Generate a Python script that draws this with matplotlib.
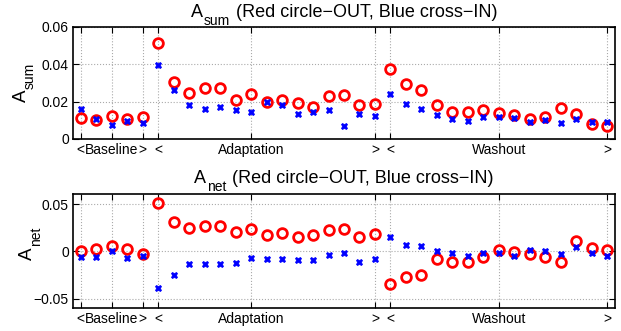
import numpy as np
import matplotlib
matplotlib.use("Agg")
import matplotlib.pyplot as plt

plt.rcParams["font.family"] = ["Liberation Sans", "DejaVu Sans"]

W, H = 621, 331

# trial index: 5 baseline, 15 adaptation, 15 washout
trials = np.arange(1, 36)

sum_out = [0.0114, 0.0102, 0.0121, 0.0107, 0.0116,
           0.0514, 0.0305, 0.0244, 0.0272, 0.0272, 0.0210, 0.0240, 0.0200, 0.0210, 0.0191,
           0.0174, 0.0233, 0.0237, 0.0180, 0.0188,
           0.0377, 0.0293, 0.0265, 0.0182, 0.0142, 0.0144, 0.0156, 0.0139, 0.0126, 0.0105,
           0.0119, 0.0165, 0.0133, 0.0079, 0.0067]
sum_in = [0.0160, 0.0105, 0.0074, 0.0096, 0.0084,
          0.0398, 0.0260, 0.0180, 0.0160, 0.0174, 0.0156, 0.0146, 0.0200, 0.0182, 0.0135,
          0.0147, 0.0156, 0.0070, 0.0133, 0.0125,
          0.0239, 0.0186, 0.0160, 0.0126, 0.0107, 0.0096, 0.0118, 0.0116, 0.0114, 0.0089,
          0.0102, 0.0088, 0.0109, 0.0093, 0.0089]

net_out = [0.0000, 0.0025, 0.0060, 0.0028, -0.0025,
           0.0518, 0.0312, 0.0248, 0.0273, 0.0266, 0.0202, 0.0238, 0.0170, 0.0199, 0.0152,
           0.0173, 0.0227, 0.0234, 0.0149, 0.0184,
           -0.0344, -0.0273, -0.0248, -0.0085, -0.0110, -0.0113, -0.0060, 0.0011, -0.0004, -0.0025,
           -0.0060, -0.0117, 0.0110, 0.0032, 0.0011]
net_in = [-0.0057, -0.0057, 0.0004, -0.0074, -0.0046,
          -0.0387, -0.0248, -0.0135, -0.0128, -0.0135, -0.0120, -0.0064, -0.0085, -0.0078, -0.0092,
          -0.0091, -0.0039, -0.0014, -0.0117, -0.0078,
          0.0156, 0.0071, 0.0053, 0.0007, -0.0014, -0.0043, -0.0014, -0.0021, -0.0050, 0.0018,
          0.0007, -0.0032, 0.0046, -0.0021, -0.0046]

xtick_pos = [1, 3, 5, 6, 12, 20, 21, 28, 35]
xtick_lab = ["<", "Baseline", ">", "<", "Adaptation", ">", "<", "Washout", ">"]

title_rest = "(Red circle\u2212OUT, Blue cross\u2212IN)"


def matlab_text(fig, x, y, pieces, vertical=False, center=False):
    """Place text pieces one after another (MATLAB-like subscripts).

    x, y are pixels from top-left; pieces are (text, size, drop_px, gap_px).
    Horizontal text runs to the right, vertical text runs upwards."""
    r = fig.canvas.get_renderer()
    arts, lens = [], []
    for s, size, drop, gap in pieces:
        t = fig.text(0, 0, s, fontsize=size, ha="left", va="baseline",
                     rotation_mode="anchor")
        arts.append(t)
        lens.append(t.get_window_extent(r).width)
    total = sum(lens) + sum(p[3] for p in pieces)
    pos = -total / 2 if center else 0
    for t, L, (s, size, drop, gap) in zip(arts, lens, pieces):
        pos += gap
        if vertical:
            t.set_rotation(90)
            t.set_position(((x + drop) / W, 1 - (y - pos) / H))
        else:
            t.set_position(((x + pos) / W, 1 - (y + drop) / H))
        pos += L


fig = plt.figure(figsize=(W / 100, H / 100), dpi=100)
ax1 = fig.add_axes([73 / W, 1 - 139 / H, 542 / W, 112 / H])
ax2 = fig.add_axes([73 / W, 1 - 308 / H, 542 / W, 114 / H])

panels = [
    (ax1, sum_out, sum_in, (0, 0.06), [0, 0.02, 0.04, 0.06], ["0", "0.02", "0.04", "0.06"]),
    (ax2, net_out, net_in, (-0.06, 0.061), [-0.05, 0, 0.05], ["\u22120.05", "0", "0.05"]),
]

for ax, out, inn, ylim, yt, ytl in panels:
    ax.plot(trials, out, "o", ls="none", mfc="none", mec=(1, 0, 0), mew=2, ms=7)
    ax.plot(trials, inn, "X", ls="none", color=(0, 0, 1), mec=(0, 0, 1), mew=0.5, ms=5)
    ax.set_xlim(0.5, 35.5)
    ax.set_ylim(*ylim)
    ax.set_yticks(yt)
    ax.set_yticklabels(ytl)
    ax.set_xticks(xtick_pos)
    ax.set_xticklabels(xtick_lab)
    ax.tick_params(direction="in", length=4, width=0.8, top=True, right=True,
                   labelsize=10, pad=3)
    ax.grid(True, ls=":", color="#aaaaaa", lw=0.8)
    for s in ax.spines.values():
        s.set_linewidth(1.2)

# titles with MATLAB style subscripts
matlab_text(fig, 344, 17, [("A", 13, 0, 0), ("sum", 10, 8, 1), (title_rest, 13, 0, 6)], center=True)
matlab_text(fig, 344, 183, [("A", 13, 0, 0), ("net", 10, 8, 1), (title_rest, 13, 0, 6)], center=True)

# y labels
matlab_text(fig, 26, 102, [("A", 13.5, 0, 0), ("sum", 10, 8, 1)], vertical=True)
matlab_text(fig, 32, 260, [("A", 13.5, 0, 0), ("net", 10, 8, 1)], vertical=True)

fig.savefig("out.png", dpi=100)
